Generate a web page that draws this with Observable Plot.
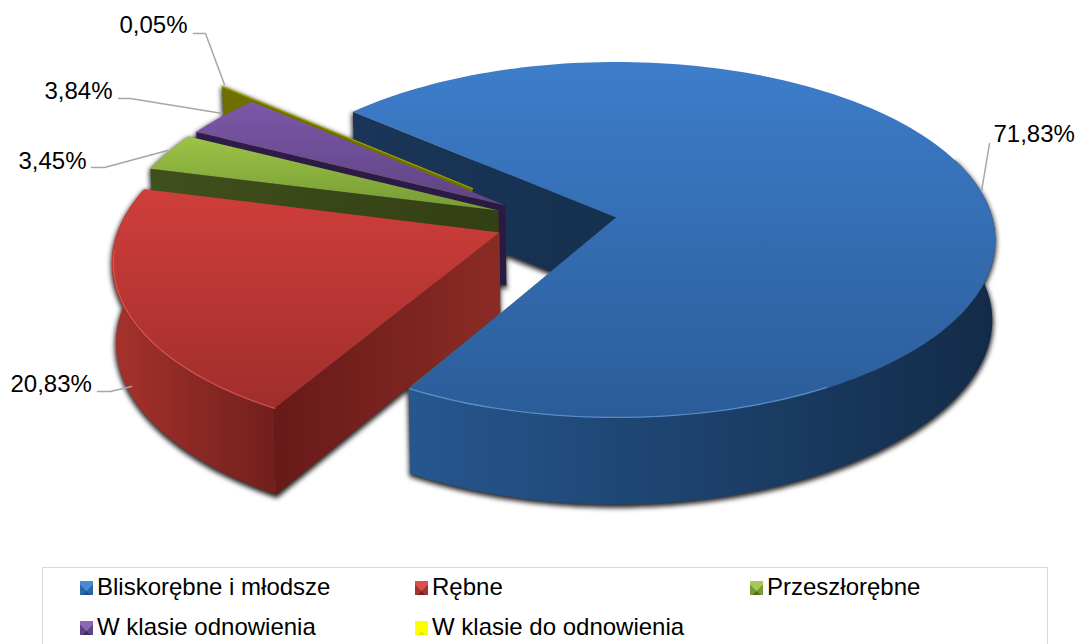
<!DOCTYPE html>
<html><head><meta charset="utf-8">
<script src="https://cdn.jsdelivr.net/npm/d3@7"></script>
<script src="https://cdn.jsdelivr.net/npm/@observablehq/plot@0.6"></script>
<style>
html,body{margin:0;padding:0;background:#fff;overflow:hidden;width:1078px;height:644px}
#chart svg{display:block}
#legend{position:absolute;left:42px;top:567px;width:1006px;height:90px;border:1px solid #d9d9d9;box-sizing:border-box;
 font:24px "Liberation Sans",Arial,sans-serif;color:#000;display:grid;grid-template-columns:335px 335px auto;grid-auto-rows:40px;padding:0 0 0 37px}
#legend div{display:flex;align-items:center;height:40px;white-space:nowrap;margin-top:-1px}
#legend i{display:inline-block;width:13px;height:14px;margin-right:4px;flex:none;position:relative;top:1px}
</style></head><body>
<div id="chart"></div><div id="legend"></div>
<script>
// ---- data ----
const categories = ["Bliskorębne i młodsze","Rębne","Przeszłorębne","W klasie odnowienia","W klasie do odnowienia"];
const shares = [71.83,20.83,3.45,3.84,0.05];
const labelTexts = ["71,83%","20,83%","3,45%","3,84%","0,05%"];
// ---- layout of the labels and their leader lines ----
const labelX = [993,10,18,44,119];
const labelY = [134,384,161,91,25];
const leaders = [
 [[981,191],[989,143]],
 [[97,391],[110,391],[131,386]],
 [[91,167],[104,167],[167,150]],
 [[118,98],[130,98],[222,113]],
 [[193,33],[205,33],[224,84]]
];
// ---- 3D pie model (disc units, angles clockwise from far side) ----
const startAngle = 310.8;
const explodeX = [0.004,-0.2994,-0.3069,-0.2893,-0.3817];
const explodeY = [0,-0.0838,0.0398,0.068,0.167];
const radius = [0.99,0.995,0.99,0.99,1.0];
const cx=614, cy=217, A=380, B=177, k=0.128, depth=80, Abot=377, Bbot=176, kbot=0.16;
// ---- colours: [top light, top dark, wall light, wall dark, edge wall light, edge wall dark, rim]
const palette = [
 ["#3d7dca","#2b5c99","#26578f","#132b48","#1a3557","#16304f","#6ba1e0"],
 ["#d03e3b","#9f2e2b","#a6322c","#711f1d","#671a18","#8b2b26","#e2605a"],
 ["#9dc346","#759b35","#3f4f1c","#3f4f1c","#40501c","#333f14","#b5d36a"],
 ["#7d57a8","#5e4484","#2e1b49","#2e1b49","#2e1b49","#2a1a42","#9678bd"],
 ["#a3a300","#a3a300","#6f6f00","#6f6f00","#6f6f00","#6f6f00","#b0b000"]
];
const swatches = [["#4a8bd6","#2d67a6","#1f4f87"],["#d9504b","#a63230","#7c201e"],["#a6c95a","#76993a","#4f6b22"],["#8a68b3","#5f4585","#3f2a63"],["#ffff00","#ffff00","#e6e600"]];

const rad = d=>d*Math.PI/180;
function pt(i,a,r,bottom){
  const X = explodeX[i]+r*Math.sin(rad(a)), Y = explodeY[i]+r*Math.cos(rad(a));
  const s = 1/(1+k*Y);
  if(!bottom) return {x:cx+A*X*s, y:cy-B*Y*s};
  return {x:cx+Abot*X*s, y:cy+depth-Bbot*Y/(1+kbot*Y)};
}
const apex=(i,b)=>pt(i,0,0,b);
function arc(i,a0,a1,b,r){
  const R=r??radius[i], n=Math.max(2,Math.ceil(Math.abs(a1-a0)/1.5)), out=[];
  for(let j=0;j<=n;j++) out.push(pt(i,a0+(a1-a0)*j/n,R,b));
  return out;
}
// slice angle ranges come from the shares
let acc=startAngle;
const slices = shares.map((v,i)=>{const a0=acc,a1=acc+v/100*360;acc=a1;return {i,a0,a1};});
const polyTop = ({i,a0,a1})=>[apex(i,false),...arc(i,a0,a1,false)];
const polyBot = ({i,a0,a1})=>[apex(i,true),...arc(i,a0,a1,true)];
const outerWall=(i,a0,a1)=>[...arc(i,a0,a1,false),...arc(i,a0,a1,true).reverse()];
const edgeWall=(i,a)=>[apex(i,false),pt(i,a,radius[i],false),pt(i,a,radius[i],true),apex(i,true)];
const withZ=(pts,z)=>pts.map(p=>({...p,z}));
const face=(pts,fill,extra={})=>Plot.line(pts,{x:"x",y:"y",fill,stroke:"none",...extra});

// shadow: the visible front walls of every slice, blurred underneath
const shadowPts=[];
slices.forEach(s=>{
  shadowPts.push(...withZ(polyBot(s),"b"+s.i));
  if(s.i===0) shadowPts.push(...withZ(outerWall(0,70,s.a1-360),"o0"));
  else shadowPts.push(...withZ(outerWall(s.i,s.a0,s.a1),"o"+s.i));
  shadowPts.push(...withZ(edgeWall(s.i,s.a0),"e"+s.i));
  if(s.i!==0) shadowPts.push(...withZ(edgeWall(s.i,s.a1),"f"+s.i));
});
const marks=[
  Plot.line(shadowPts,{x:"x",y:"y",z:"z",fill:"#222",stroke:"#222",strokeWidth:2,dy:2,imageFilter:"blur(2.5px)"})
];
// painter's order: blue, then yellow, purple, green, red
const s0=slices[0];
marks.push(
  face(outerWall(0,70,s0.a1-360),"url(#wall0)"),
  face(edgeWall(0,s0.a0),"url(#edge0)"),
  face(polyTop(s0),"url(#top0)"),
  Plot.line(arc(0,150,s0.a1-360,false,radius[0]-0.003),{x:"x",y:"y",stroke:palette[0][6],strokeWidth:1.2,strokeOpacity:.7})
);
[4,3,2].forEach(i=>{
  const s=slices[i];
  marks.push(face(edgeWall(i,s.a0),`url(#edge${i})`), face(polyTop(s),`url(#top${i})`,
     i===4?{stroke:palette[4][0],strokeWidth:1.2}:{}));
});
const s1=slices[1];
marks.push(
  face(outerWall(1,s1.a0,s1.a1),"url(#wall1)"),
  face(edgeWall(1,s1.a0),"url(#edge1)"),
  face(polyTop(s1),"url(#top1)"),
  Plot.line(arc(1,s1.a0,s1.a0+55,false,radius[1]-0.004),{x:"x",y:"y",stroke:palette[1][6],strokeWidth:1.2,strokeOpacity:.7})
);
// leader lines and labels
const leaderPts=leaders.flatMap((l,i)=>l.map(([x,y])=>({x,y,z:i})));
marks.push(
  Plot.line(leaderPts,{x:"x",y:"y",z:"z",stroke:"#a6a6a6",strokeWidth:1.5}),
  Plot.text(labelTexts,{x:(d,i)=>labelX[i],y:(d,i)=>labelY[i],text:d=>d,textAnchor:"start",fontSize:24,fontFamily:"Liberation Sans",fill:"#000"})
);

const svg=Plot.plot({width:1078,height:560,margin:0,
  x:{domain:[0,1078],range:[0,1078],axis:null},
  y:{domain:[0,560],range:[0,560],axis:null},
  style:{background:"transparent"},
  marks});
// gradients
const defs=d3.select(svg).insert("defs",":first-child");
function grad(id,c0,c1,horizontal){
  const g=defs.append("linearGradient").attr("id",id).attr("x1",0).attr("y1",0)
    .attr("x2",horizontal?1:0).attr("y2",horizontal?0:1);
  g.append("stop").attr("offset",0).attr("stop-color",c0);
  g.append("stop").attr("offset",1).attr("stop-color",c1);
}
palette.forEach((p,i)=>{
  grad("top"+i,p[0],p[1],false);
  grad("wall"+i,p[2],p[3],true);
  grad("edge"+i,p[4],p[5],true);
});
document.getElementById("chart").append(svg);
// legend below the svg
const legend=d3.select("#legend");
categories.forEach((c,i)=>{
  const d=legend.append("div");
  const [l,m,b]=swatches[i];
  d.append("i").style("background",`conic-gradient(from 315deg at 50% 72%, ${l} 0 25%, ${m} 25% 50%, ${b} 50% 75%, ${m} 75%)`);
  d.append("span").text(c);
});
</script></body></html>
